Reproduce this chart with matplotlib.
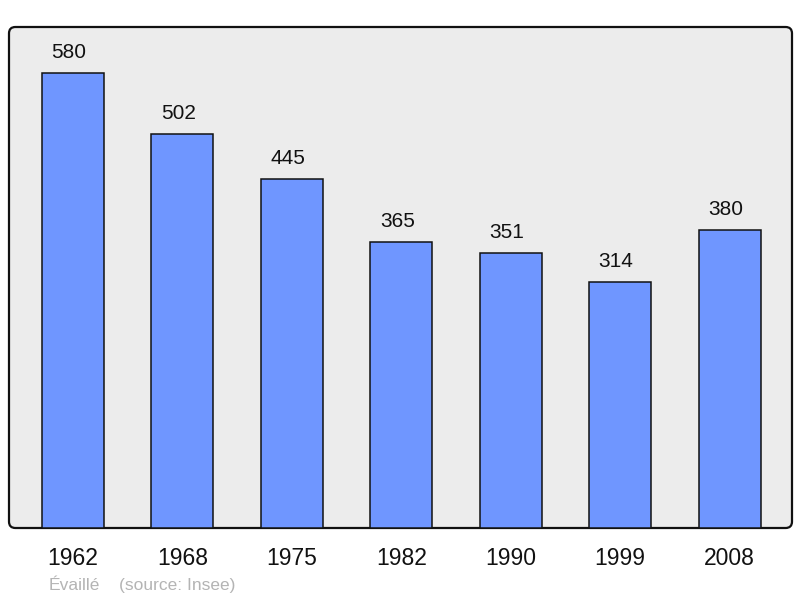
import matplotlib
matplotlib.use("Agg")
import matplotlib.pyplot as plt
from matplotlib.patches import FancyBboxPatch
import numpy as np

plt.rcParams["font.family"] = ["Liberation Sans", "DejaVu Sans"]

years = ["1962", "1968", "1975", "1982", "1990", "1999", "2008"]
population = [580, 502, 445, 365, 351, 314, 380]

BG = "#ececec"
BAR = "#6f96ff"
FOOT = "#b4b4b4"

fig = plt.figure(figsize=(8, 5.98), dpi=100)
fig.patch.set_facecolor("white")
ax = fig.add_axes([9 / 800, 70 / 598, 783 / 800, 501 / 598])
ax.set_facecolor("none")
ax.set_zorder(1)

# rounded frame behind the bars
frame = FancyBboxPatch((9 / 800, 70 / 598), 783 / 800, 501 / 598,
                       boxstyle="round,pad=0,rounding_size=0.008",
                       mutation_aspect=800 / 598,
                       transform=fig.transFigure, facecolor=BG,
                       edgecolor="#111111", linewidth=1.6, zorder=-1)
fig.patches.append(frame)

x = np.arange(len(years))
ax.bar(x, population, width=0.567, color=BAR, edgecolor="#111111",
       linewidth=1.1, zorder=2)

for xi, v in zip(x, population):
    ax.annotate(str(v), xy=(xi, v), xytext=(-2.9, 10.8), textcoords="offset points",
                ha="center", va="baseline", fontsize=15, color="#111111")

ax.set_xlim(-0.585, 6.571)
ax.set_ylim(0, 638.6)
ax.set_xticks(x)
ax.set_xticklabels(years, fontsize=16.5, color="#111111")
ax.tick_params(axis="x", length=0, pad=14)
ax.set_yticks([])
for s in ax.spines.values():
    s.set_visible(False)

fig.text(49 / 800, 8 / 598, "Évaillé", fontsize=12.5, color=FOOT, va="baseline")
fig.text(119 / 800, 8 / 598, "(source: Insee)", fontsize=12.5, color=FOOT, va="baseline")

fig.savefig("out.png", dpi=100, facecolor="white")
plt.close(fig)
